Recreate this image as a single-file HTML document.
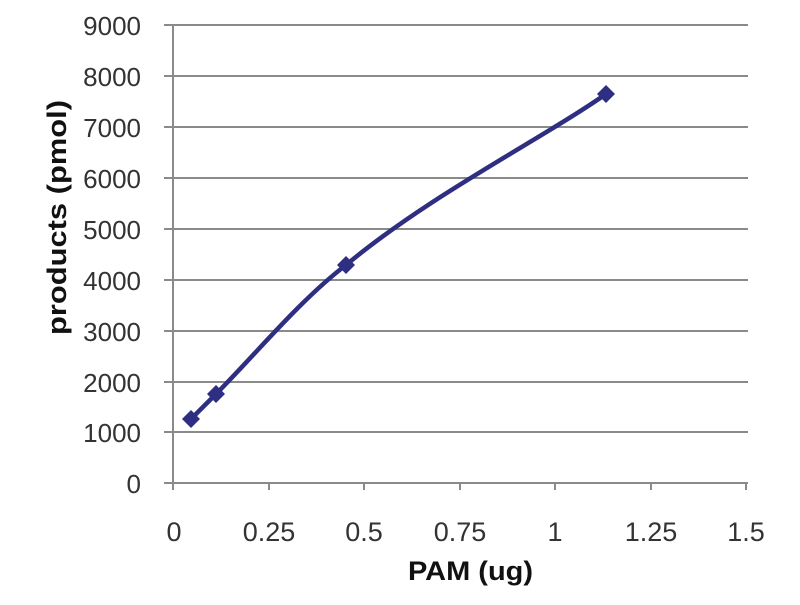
<!DOCTYPE html><html><head><style>body{margin:0;background:#fff}</style></head><body>
<svg width="800" height="600" xmlns="http://www.w3.org/2000/svg" font-family="Liberation Sans, sans-serif">
<rect width="800" height="600" fill="#fff"/>
<g stroke="#8a8a8a" stroke-width="2">
<line x1="164" y1="25" x2="748" y2="25"/><line x1="164" y1="76" x2="748" y2="76"/><line x1="164" y1="127" x2="748" y2="127"/><line x1="164" y1="178" x2="748" y2="178"/><line x1="164" y1="229" x2="748" y2="229"/><line x1="164" y1="280" x2="748" y2="280"/><line x1="164" y1="331" x2="748" y2="331"/><line x1="164" y1="382" x2="748" y2="382"/><line x1="164" y1="432" x2="748" y2="432"/><line x1="164" y1="483" x2="748" y2="483"/>
<line x1="173" y1="25" x2="173" y2="490"/>
<line x1="269" y1="483" x2="269" y2="490"/><line x1="364" y1="483" x2="364" y2="490"/><line x1="460" y1="483" x2="460" y2="490"/><line x1="555" y1="483" x2="555" y2="490"/><line x1="651" y1="483" x2="651" y2="490"/><line x1="746" y1="483" x2="746" y2="490"/>
</g>
<g fill="#333" font-size="26" text-anchor="end">
<text x="141" y="35">9000</text><text x="141" y="86">8000</text><text x="141" y="137">7000</text><text x="141" y="188">6000</text><text x="141" y="239">5000</text><text x="141" y="290">4000</text><text x="141" y="341">3000</text><text x="141" y="392">2000</text><text x="141" y="442">1000</text><text x="141" y="493">0</text>
</g>
<g fill="#333" font-size="27" text-anchor="middle">
<text x="174" y="541">0</text><text x="269" y="541">0.25</text><text x="364" y="541">0.5</text><text x="460" y="541">0.75</text><text x="555" y="541">1</text><text x="651" y="541">1.25</text><text x="746" y="541">1.5</text>
</g>
<text x="408" y="580" font-size="27" font-weight="bold" fill="#111" textLength="125" lengthAdjust="spacingAndGlyphs">PAM (ug)</text>
<text transform="translate(66,335) rotate(-90)" font-size="27" font-weight="bold" fill="#111" textLength="235" lengthAdjust="spacingAndGlyphs">products (pmol)</text>
<path d="M191,419 C200,410 208,402 216,394 C255,355 300,300 346,265 C430,195 540,140 606,94" fill="none" stroke="#2e2e82" stroke-width="4.5"/>
<g fill="#2e2e82">
<polygon points="191,410 200,419 191,428 182,419"/><polygon points="216,385 225,394 216,403 207,394"/><polygon points="346,256 355,265 346,274 337,265"/><polygon points="606,85 615,94 606,103 597,94"/>
</g>
</svg></body></html>
